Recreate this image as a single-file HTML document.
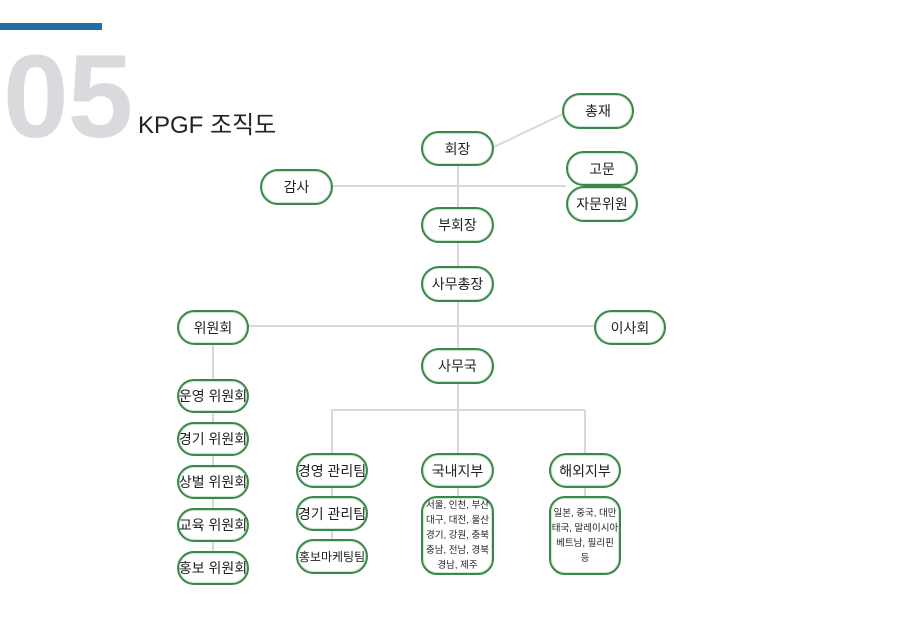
<!DOCTYPE html>
<html><head><meta charset="utf-8"><style>
html,body{margin:0;padding:0;background:#fff;}
#c{position:relative;width:900px;height:636px;overflow:hidden;font-family:"Liberation Sans","Noto Sans CJK KR",sans-serif;}
.b{position:absolute;box-sizing:border-box;border:2.5px solid #3a8848;border-radius:18px;background:#fff;display:flex;align-items:center;justify-content:center;font-size:14px;color:#222;white-space:nowrap;box-shadow:inset 0 0 0 1px #cfe6d2;}
.s{font-size:9.5px;line-height:15px;text-align:center;white-space:normal;border-radius:16px;}
</style></head><body><div id="c">
<div style="position:absolute;left:0;top:23px;width:102px;height:7px;background:#1d6fa5"></div>
<div style="position:absolute;left:3px;top:38px;font-size:118px;font-weight:bold;color:#d9dadd;line-height:118px;letter-spacing:-1px;">05</div>
<div style="position:absolute;left:138px;top:111px;font-size:24px;color:#222;line-height:30px;">KPGF 조직도</div>
<svg width="900" height="636" style="position:absolute;left:0;top:0">
<g stroke="#d8d8d8" stroke-width="2" fill="none">
<line x1="458" y1="165" x2="458" y2="453"/>
<line x1="494" y1="147" x2="563" y2="114"/>
<line x1="332" y1="186" x2="566" y2="186"/>
<line x1="248" y1="326" x2="594" y2="326"/>
<line x1="213" y1="345" x2="213" y2="551"/>
<line x1="332" y1="410" x2="585" y2="410"/>
<line x1="332" y1="410" x2="332" y2="540"/>
<line x1="585" y1="410" x2="585" y2="497"/>
<line x1="458" y1="488" x2="458" y2="497"/>
</g></svg>
<div class="b" style="left:562px;top:93px;width:72px;height:36px">총재</div>
<div class="b" style="left:421px;top:131px;width:73px;height:35px">회장</div>
<div class="b" style="left:566px;top:151px;width:72px;height:35px">고문</div>
<div class="b" style="left:566px;top:186px;width:72px;height:36px">자문위원</div>
<div class="b" style="left:260px;top:169px;width:73px;height:36px">감사</div>
<div class="b" style="left:421px;top:207px;width:73px;height:36px">부회장</div>
<div class="b" style="left:421px;top:266px;width:73px;height:36px">사무총장</div>
<div class="b" style="left:177px;top:310px;width:72px;height:35px">위원회</div>
<div class="b" style="left:594px;top:310px;width:72px;height:35px">이사회</div>
<div class="b" style="left:421px;top:348px;width:73px;height:36px">사무국</div>
<div class="b" style="left:177px;top:379px;width:72px;height:34px">운영 위원회</div>
<div class="b" style="left:177px;top:422px;width:72px;height:34px">경기 위원회</div>
<div class="b" style="left:177px;top:465px;width:72px;height:34px">상벌 위원회</div>
<div class="b" style="left:177px;top:508px;width:72px;height:34px">교육 위원회</div>
<div class="b" style="left:177px;top:551px;width:72px;height:34px">홍보 위원회</div>
<div class="b" style="left:296px;top:453px;width:72px;height:35px">경영 관리팀</div>
<div class="b" style="left:296px;top:496px;width:72px;height:35px">경기 관리팀</div>
<div class="b" style="left:296px;top:539px;width:72px;height:35px;font-size:12px">홍보마케팅팀</div>
<div class="b" style="left:421px;top:453px;width:73px;height:35px">국내지부</div>
<div class="b" style="left:549px;top:453px;width:72px;height:35px">해외지부</div>
<div class="b s" style="left:421px;top:496px;width:73px;height:79px">서울, 인천, 부산<br>대구, 대전, 울산<br>경기, 강원, 충북<br>충남, 전남, 경북<br>경남, 제주</div>
<div class="b s" style="left:549px;top:496px;width:72px;height:79px">일본, 중국, 대만<br>태국, 말레이시아<br>베트남, 필리핀<br>등</div>
</div></body></html>
